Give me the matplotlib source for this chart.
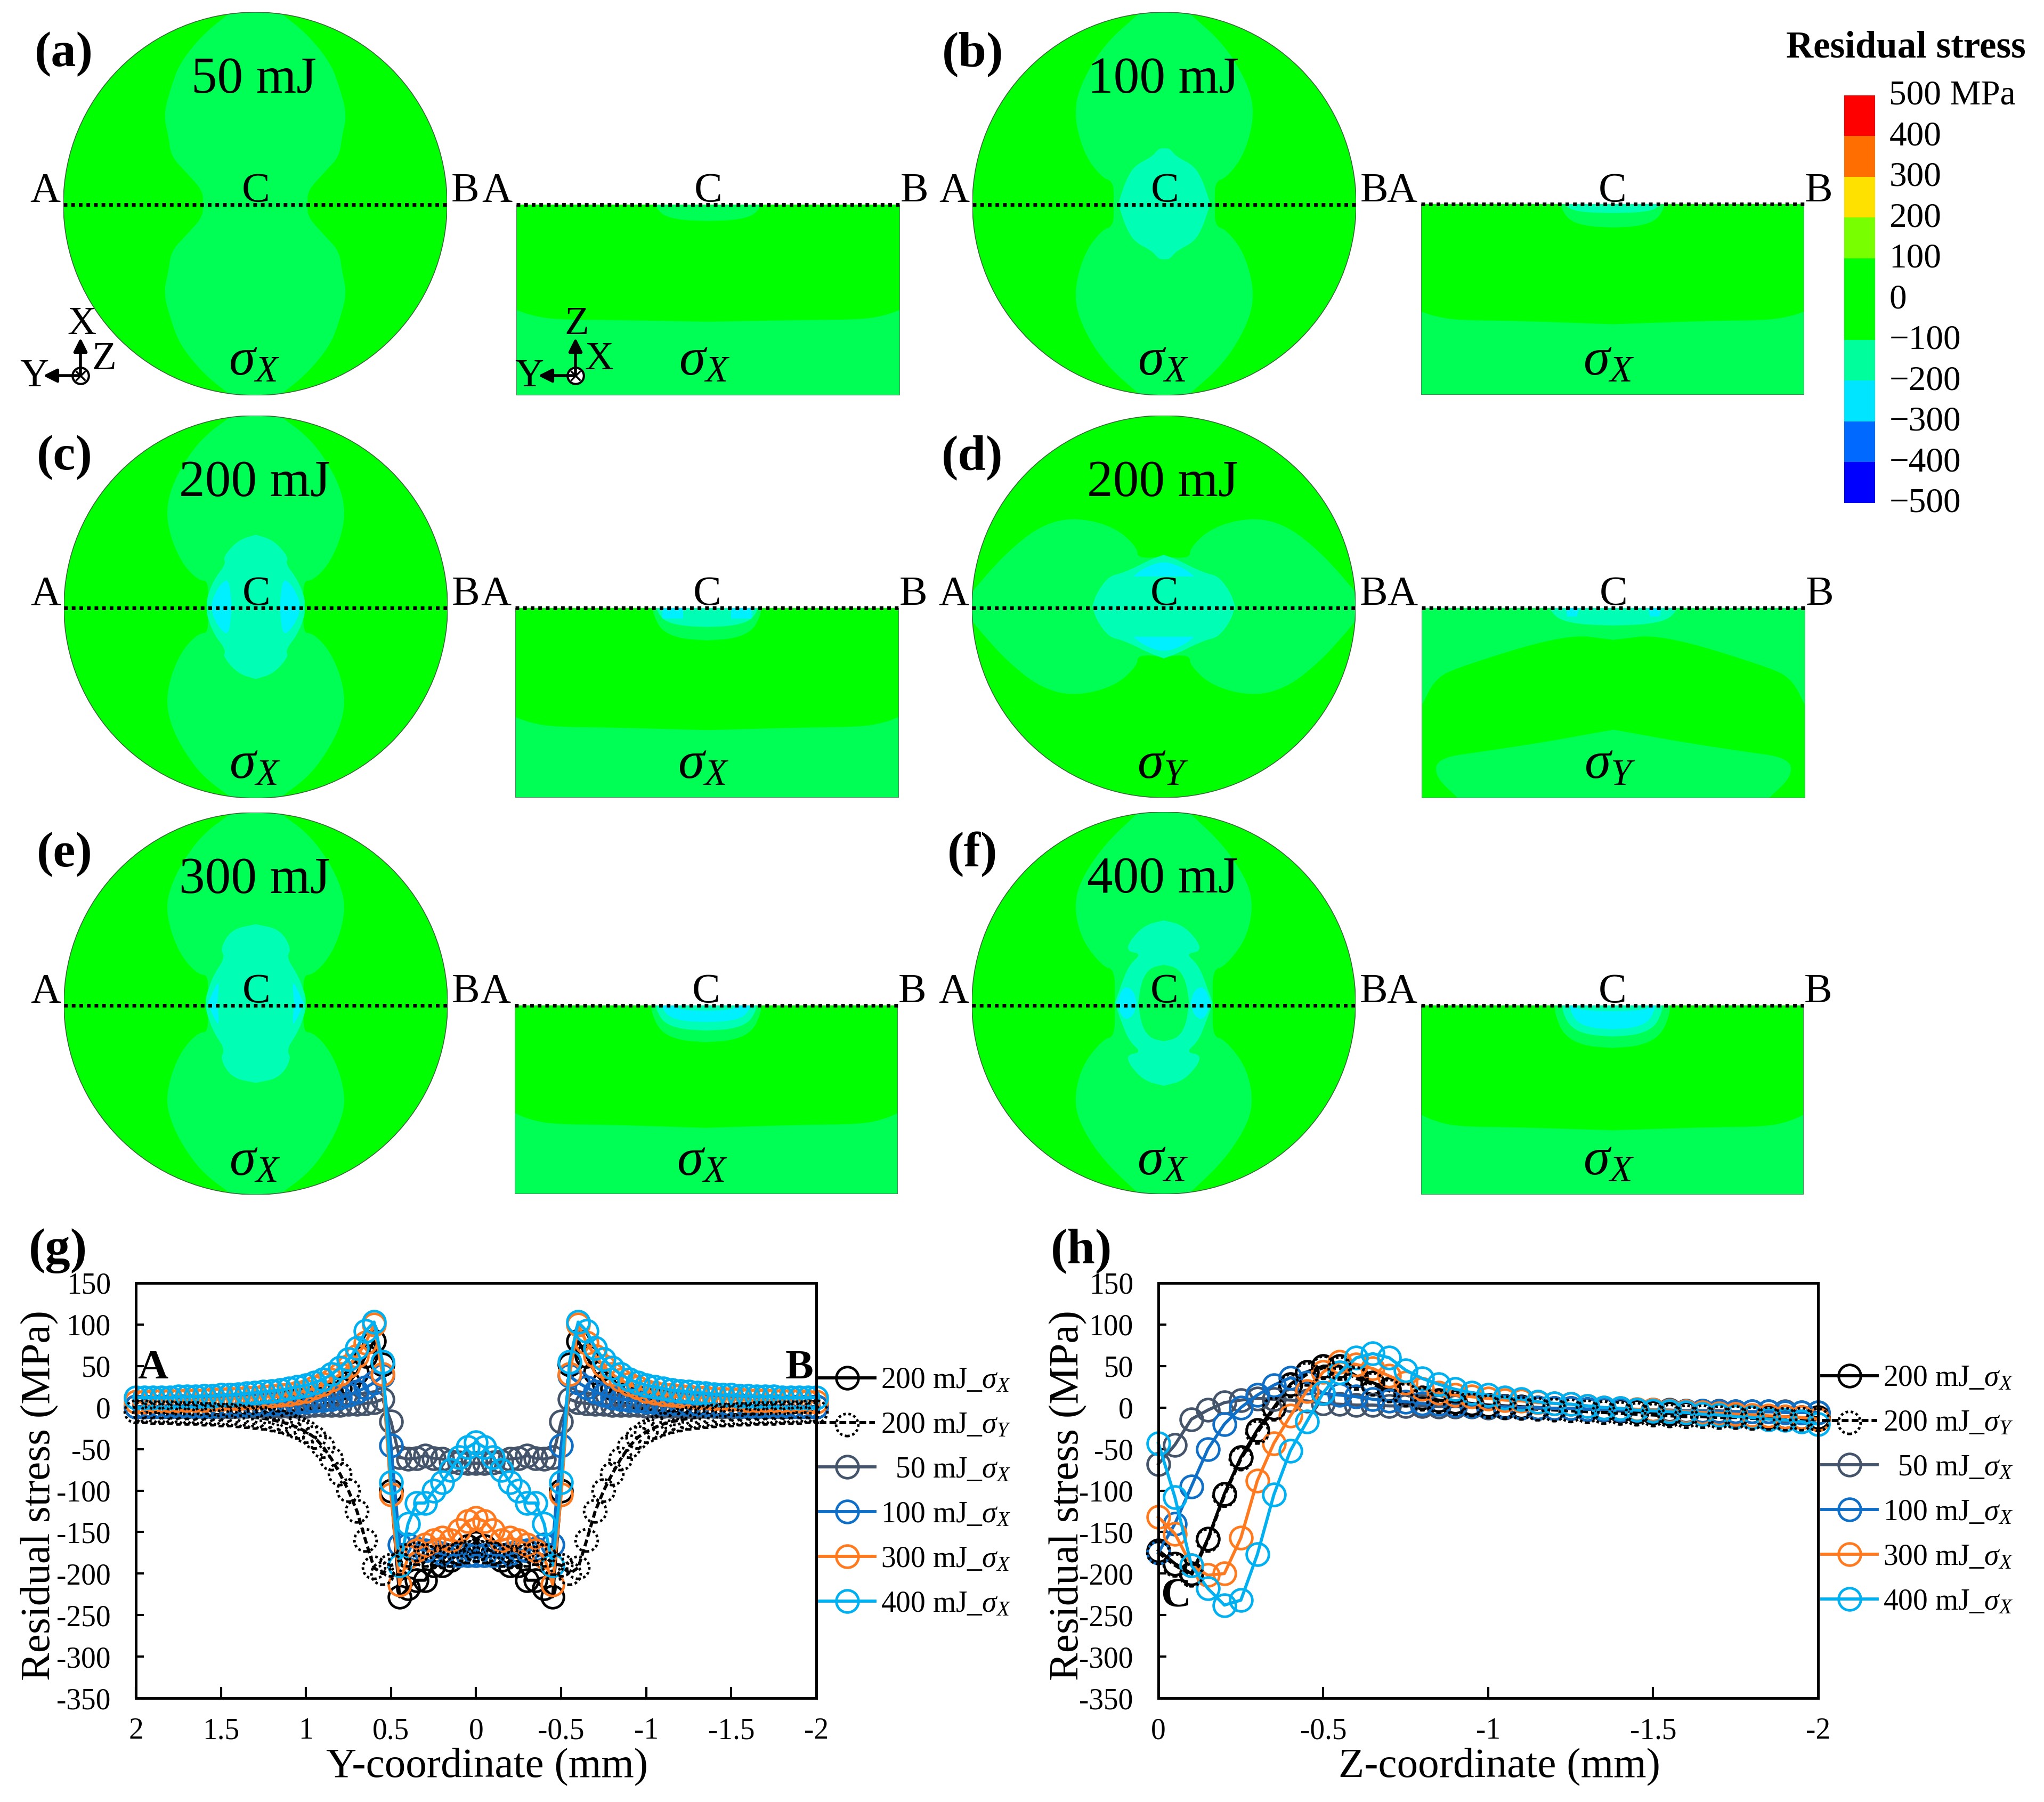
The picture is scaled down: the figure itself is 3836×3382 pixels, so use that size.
import numpy as np
import matplotlib
matplotlib.use('Agg')
import matplotlib.pyplot as plt
from matplotlib.legend_handler import HandlerTuple
from matplotlib.lines import Line2D
from matplotlib.patches import Ellipse, Polygon
from matplotlib.ticker import FormatStrFormatter
from matplotlib.transforms import ScaledTranslation

plt.rcParams['font.family'] = ['Liberation Serif', 'DejaVu Serif']
plt.rcParams['mathtext.fontset'] = 'custom'
plt.rcParams['mathtext.rm'] = 'Liberation Serif'
plt.rcParams['mathtext.it'] = 'Liberation Serif:italic'
plt.rcParams['mathtext.bf'] = 'Liberation Serif:bold'
plt.rcParams['axes.unicode_minus'] = False

W, H = 3837, 3382
GREEN, LIGHT, TEAL, CYAN = '#00ff00', '#00ff55', '#00ffb4', '#00f0ff'

# colour scale
level_edges = [-500, -400, -300, -200, -100, 100, 200, 300, 400, 500]
level_colors = ['#0000ff', '#0069ff', '#00e5ff', '#00ff9c', '#00ff00', '#78ff00', '#ffe100', '#ff6e00', '#ff0000']
level_ticks = [500, 400, 300, 200, 100, 0, -100, -200, -300, -400, -500]
level_labels = ['500 MPa', '400', '300', '200', '100', '0', '\u2212100', '\u2212200', '\u2212300', '\u2212400', '\u2212500']

# line chart (g): stress along the surface, Y = 0 to 2, the curves are mirrored about Y = 0
y_half = [0, .05, .1, .15, .2, .25, .3, .35, .4, .45, .5, .55, .6, .65, .7, .75, .8, .85, .9, .95, 1,
          1.05, 1.1, 1.15, 1.2, 1.25, 1.3, 1.35, 1.4, 1.45, 1.5, 1.55, 1.6, 1.65, 1.7, 1.75, 1.8, 1.85, 1.9, 1.95, 2]
g_200x = [-163, -167, -175, -184, -190, -190, -208, -208, -218, -228,
          -100, 52, 80, 62, 42, 30, 23, 18, 15, 12, 10, 9, 8, 7, 6, 5, 5, 4, 4, 3, 3, 3, 2, 2, 2, 2, 1, 1, 1, 1, 1]
g_200y = [-172, -174, -176, -178, -180, -180, -178, -176, -178, -188,
          -190, -200, -193, -160, -125, -100, -80, -62, -47, -36, -29, -24, -20, -17, -15, -13, -12, -11, -10, -9,
          -9, -8, -8, -7, -7, -7, -6, -6, -6, -5, -5]
g_50x = [-67, -67, -66, -65, -62, -61, -58, -61, -62, -60,
         -17, 10, 6, 5, 4, 4, 3, 3, 3, 3, 2, 2, 2, 2, 2, 2, 2, 2, 2, 1, 1, 1, 1, 1, 1, 1, 1, 1, 1, 1, 1]
g_100x = [-178, -178, -178, -178, -176, -172, -172, -170, -165, -165,
          -46, 38, 30, 24, 19, 15, 12, 10, 9, 8, 7, 6, 5, 5, 4, 4, 4, 3, 3, 3, 3, 2, 2, 2, 2, 2, 2, 1, 1, 1, 1]
g_300x = [-133, -137, -148, -160, -157, -160, -165, -172, -180, -213,
          -105, 40, 100, 78, 62, 50, 40, 33, 28, 24, 20, 18, 16, 15, 14, 13, 12, 12, 11, 11, 10, 10, 9, 9, 9, 8, 8, 8, 8, 7, 7]
g_400x = [-42, -48, -60, -75, -90, -100, -115, -115, -140, -190,
          -90, 55, 103, 92, 72, 58, 48, 40, 34, 30, 27, 25, 23, 21, 20, 19, 18, 17, 16, 15, 15, 14, 14, 13, 13, 13, 12, 12, 12, 12, 12]

# line chart (h): stress along the depth, Z = 0 to -2
h_200x = [-172, -188, -200, -158, -104, -60, -27, 0, 28, 43, 50, 50, 38, 30, 22, 17, 12, 9, 7, 5, 3,
          2, 1, 0, -1, -1, -2, -3, -4, -5, -6, -7, -7, -8, -9, -9, -10, -11, -11, -12, -12]
h_200y = [-175, -190, -202, -160, -106, -62, -30, -2, 26, 40, 48, 47, 35, 28, 20, 15, 10, 7, 5, 3, 1,
          0, -1, -2, -3, -4, -5, -6, -7, -8, -9, -10, -11, -11, -12, -12, -13, -13, -14, -14, -15]
h_50x = [-68, -45, -14, -3, 6, 9, 11, 10, 9, 8, 5, 4, 3, 3, 2, 2, 2, 1, 1, 1, 0,
         0, 0, -1, -1, -1, -2, -2, -2, -3, -3, -3, -4, -4, -4, -5, -5, -5, -5, -6, -6]
h_100x = [-175, -140, -95, -50, -20, 0, 15, 27, 36, 30, 17, 15, 13, 10, 8, 7, 5, 4, 3, 2, 1,
          1, 0, 0, -1, -1, -2, -2, -3, -3, -3, -4, -4, -4, -5, -5, -5, -5, -6, -6, -6]
h_300x = [-132, -152, -190, -202, -200, -157, -88, -43, -10, 20, 43, 55, 52, 47, 38, 30, 22, 18, 15, 13, 11,
          9, 8, 6, 5, 4, 2, 0, -1, -2, -3, -4, -5, -6, -7, -8, -9, -10, -11, -12, -14]
h_400x = [-43, -108, -190, -218, -238, -232, -177, -105, -52, -17, 18, 42, 60, 65, 60, 45, 35, 28, 22, 18, 15,
          12, 10, 7, 5, 4, 2, 0, -1, -3, -4, -5, -6, -8, -9, -11, -12, -14, -15, -17, -20]

legend_labels = ['200 mJ_$\\sigma_X$', '200 mJ_$\\sigma_Y$', '  50 mJ_$\\sigma_X$',
                 '100 mJ_$\\sigma_X$', '300 mJ_$\\sigma_X$', '400 mJ_$\\sigma_X$']
line_colors = ['black', 'black', '#44546a', '#0f6fc6', '#ff7a1e', '#00b0f0']

# contour outlines of the disks, upper right quadrant, unit = disk radius
a_light = [(.127, 1.0), (.267, .89), (.39, .74), (.437, .616), (.478, .466), (.453, .356), (.438, .247), (.36, .164), (.273, .068), (.273, 0)]
b_light = [(.124, 1.0), (.31, .836), (.435, .63), (.472, .466), (.419, .26), (.326, .137), (.264, .116), (.264, 0)]
b_teal = [(0, .29), (.03, .288), (.062, .247), (.155, .199), (.2, .123), (.24, 0)]
c_light = [(.124, 1.0), (.28, .884), (.388, .733), (.45, .596), (.466, .473), (.435, .336), (.373, .212), (.295, .137), (.248, .137), (.248, 0)]
c_teal = [(0, .377), (.093, .349), (.171, .26), (.155, .226), (.217, .144), (.255, .048), (.255, 0)]
c_cyan = [(.125, 0), (.14, .155), (.19, .11), (.222, .05), (.232, 0)]
d_light = [(0, .26), (.137, .253), (.137, .308), (.255, .418), (.472, .47), (.65, .42), (.81, .29), (.93, .16), (1.02, .05), (1.02, 0)]
d_teal = [(0, .271), (.068, .247), (.16, .2), (.224, .174), (.286, .158), (.348, .075), (.373, 0)]
d_cyan = [(-.16, .158), (-.1, .205), (0, .24), (.1, .205), (.16, .158)]
e_light = [(.124, 1.0), (.28, .884), (.388, .733), (.45, .596), (.466, .49), (.435, .35), (.373, .226), (.295, .15), (.248, .15), (.248, 0)]
e_teal = [(0, .415), (.124, .39), (.186, .29), (.16, .24), (.22, .15), (.26, .04), (.26, 0)]
e_cyan = [(.2, 0), (.19, .12), (.215, .08), (.25, 0)]
f_light = [(.13, 1.0), (.317, .822), (.441, .63), (.466, .49), (.425, .326), (.317, .19), (.255, .175), (.255, 0)]
f_teal = [(0, .433), (.1, .408), (.177, .326), (.193, .271), (.115, .258), (.18, .2), (.22, .1), (.255, 0)]
f_hole = [(0, .2), (.07, .185), (.115, .12), (.133, 0)]
f_cyan = [(.14, 0), (.16, .07), (.21, .09), (.245, 0)]

# the section rectangles, right half, x unit = half width, y = depth
d_sec_green = [(0, -.168), (.248, -.137), (.823, -.315), (.932, -.377), (1, -.514)]
d_sec_blob = [(0, -.64), (.357, -.705), (.668, -.753), (.916, -.788), (.932, -.884), (.81, -1)]


def smooth(pts, n=3):
    # corner cutting, ends stay where they are
    pts = [tuple(p) for p in pts]
    for _ in range(n):
        new = [pts[0]]
        for p, q in zip(pts[:-1], pts[1:]):
            new.append((.75 * p[0] + .25 * q[0], .75 * p[1] + .25 * q[1]))
            new.append((.25 * p[0] + .75 * q[0], .25 * p[1] + .75 * q[1]))
        new.append(pts[-1])
        pts = new
    return pts


def quad(pts):
    pts = smooth(pts)
    return (pts + [(x, -y) for x, y in pts[::-1]]
            + [(-x, -y) for x, y in pts] + [(-x, y) for x, y in pts[::-1]])


def side(pts, sign=1):
    pts = smooth(pts)
    return [(sign * x, y) for x, y in pts] + [(sign * x, -y) for x, y in pts[::-1]]


def half_mirror(pts):
    # right half outline to a closed shape around x = 0
    pts = smooth(pts)
    return [(-x, y) for x, y in pts[::-1]] + pts


def bump(half, depth):
    return half_mirror([(0, -depth), (.5 * half, -.95 * depth), (.85 * half, -.7 * depth), (half, -.2 * depth), (half, 0)])


def band(center, mid, edge):
    pts = half_mirror([(0, -center), (.5, -mid), (.81, -mid * .995), (.93, -(mid + edge) / 2), (1, -edge)])
    return [(-1, -1)] + pts + [(1, -1)]


fig = plt.figure(figsize=(W / 100, H / 100), dpi=100, facecolor='white')


def px_axes(x0, y0, x1, y1):
    return fig.add_axes([x0 / W, 1 - y1 / H, (x1 - x0) / W, (y1 - y0) / H])


def draw_disk(cx, top, bot, shapes):
    ax = px_axes(cx - 360, top, cx + 360, bot)
    ax.set_xlim(-1, 1)
    ax.set_ylim(-1, 1)
    ax.axis('off')
    outline = Ellipse((0, 0), 2, 2, fc=GREEN, ec='none')
    ax.add_patch(outline)
    for pts, col in shapes:
        p = Polygon(pts, closed=True, fc=col, ec='none')
        ax.add_patch(p)
        p.set_clip_path(outline)
    ax.add_patch(Ellipse((0, 0), 2, 2, fc='none', ec='#3a6a3a', lw=1.2))


def draw_section(x0, x1, top, bot, shapes, bg=GREEN):
    ax = px_axes(x0, top, x1, bot)
    ax.set_xlim(-1, 1)
    ax.set_ylim(-1, 0)
    ax.axis('off')
    ax.add_patch(Polygon([(-1, 0), (1, 0), (1, -1), (-1, -1)], closed=True, fc=bg, ec='none'))
    for pts, col in shapes:
        ax.add_patch(Polygon(pts, closed=True, fc=col, ec='none'))
    ax.add_line(Line2D([-1, -1, 1, 1], [0, -1, -1, 0], color='#4a8a5a', lw=1.5))


disk_shapes = {
    'a': [(quad(a_light), LIGHT)],
    'b': [(quad(b_light), LIGHT), (quad(b_teal), TEAL)],
    'c': [(quad(c_light), LIGHT), (quad(c_teal), TEAL), (side(c_cyan), CYAN), (side(c_cyan, -1), CYAN)],
    'd': [(quad(d_light), LIGHT), (quad(d_teal), TEAL), (smooth(d_cyan), CYAN), ([(x, -y) for x, y in smooth(d_cyan)], CYAN)],
    'e': [(quad(e_light), LIGHT), (quad(e_teal), TEAL), (side(e_cyan), CYAN), (side(e_cyan, -1), CYAN)],
    'f': [(quad(f_light), LIGHT), (quad(f_teal), TEAL), (quad(f_hole), LIGHT), (side(f_cyan), CYAN), (side(f_cyan, -1), CYAN)],
}
sec_shapes = {
    'a': [(band(.614, .605, .552), LIGHT), (bump(.27, .086), LIGHT)],
    'b': [(band(.63, .612, .564), LIGHT), (bump(.267, .123), LIGHT), (bump(.244, .047), TEAL)],
    'c': [(band(.644, .63, .575), LIGHT), (bump(.28, .171), LIGHT), (bump(.26, .1), TEAL),
          ([(-.233, 0), (-.124, 0), (-.124, -.055), (-.233, -.055)], CYAN), ([(.233, 0), (.124, 0), (.124, -.055), (.233, -.055)], CYAN)],
    'd': [([(-1, -1)] + half_mirror(d_sec_green) + [(1, -1)], GREEN), (half_mirror(d_sec_blob), LIGHT), (bump(.326, .092), TEAL),
          ([(-.25, 0), (-.18, 0), (-.19, -.045), (-.24, -.045)], CYAN), ([(.25, 0), (.18, 0), (.19, -.045), (.24, -.045)], CYAN)],
    'e': [(band(.649, .633, .571), LIGHT), (bump(.285, .195), LIGHT), (bump(.26, .133), TEAL), (bump(.228, .088), CYAN), (bump(.16, .028), TEAL)],
    'f': [(band(.66, .644, .578), LIGHT), (bump(.3, .225), LIGHT), (bump(.26, .164), TEAL), (bump(.22, .126), CYAN), (bump(.2, .03), TEAL)],
}
# panel, energy, stress, disk cx/top/bottom, line y, section x0/x1/top/bottom
panels = [
    ('a', '50 mJ', 'X', 479, 23, 742, 384, 969, 1689, 384, 742),
    ('b', '100 mJ', 'X', 2185, 23, 742, 384, 2667, 3386, 383, 741),
    ('c', '200 mJ', 'X', 480, 780, 1498, 1141, 967, 1687, 1141, 1497),
    ('d', '200 mJ', 'Y', 2184, 780, 1497, 1141, 2668, 3388, 1141, 1498),
    ('e', '300 mJ', 'X', 480, 1525, 2242, 1887, 966, 1685, 1887, 2241),
    ('f', '400 mJ', 'X', 2184, 1524, 2241, 1887, 2667, 3385, 1887, 2242),
]

for name, energy, comp, cx, top, bot, ly, x0, x1, st, sb in panels:
    draw_disk(cx, top, bot, disk_shapes[name])
    draw_section(x0, x1, st, sb, sec_shapes[name], bg=LIGHT if name == 'd' else GREEN)

# overlay in pixels for all the text over the contour plots
ov = fig.add_axes([0, 0, 1, 1], zorder=5)
ov.set_xlim(0, W)
ov.set_ylim(H, 0)
ov.axis('off')
ov.patch.set_alpha(0)

for name, energy, comp, cx, top, bot, ly, x0, x1, st, sb in panels:
    ov.text(cx - 359, top + 79, '(%s)' % name, fontsize=68, fontweight='bold', ha='center', va='center')
    ov.text(cx - 2, top + 128, energy, fontsize=70, ha='center', va='center')
    for lab, xp in [('A', cx - 394), ('C', cx + 1), ('B', cx + 394), ('A', x0 - 36), ('C', (x0 + x1) / 2), ('B', x1 + 27)]:
        ov.text(xp, ly - 6, lab, fontsize=57, ha='center', va='baseline')
    sig = '$\\sigma_%s$' % comp
    ov.text(cx - 2, top + 656, sig, fontsize=72, ha='center', va='center')
    ov.text((x0 + x1) / 2 - 7, top + 656, sig, fontsize=72, ha='center', va='center')
    ov.plot([cx - 360, cx + 360], [ly, ly], color='black', lw=5, dashes=(1, 1.05), dash_capstyle='butt')
    ov.plot([x0, x1], [st, st], color='black', lw=5, dashes=(1, 1.05), dash_capstyle='butt')

# coordinate triads of panel (a)
for ox, up, right in [(151, 'X', 'Z'), (1080, 'Z', 'X')]:
    ov.annotate('', xy=(ox, 634), xytext=(ox, 705), arrowprops=dict(arrowstyle='-|>', lw=4, color='black', mutation_scale=38, shrinkA=0, shrinkB=0))
    ov.annotate('', xy=(ox - 70, 705), xytext=(ox, 705), arrowprops=dict(arrowstyle='-|>', lw=4, color='black', mutation_scale=38, shrinkA=0, shrinkB=0))
    ov.plot([ox], [705], 'o', ms=22, mfc='white', mec='black', mew=3)
    ov.plot([ox], [705], 'x', ms=13, mec='black', mew=2.5)
    ov.text(ox + 2, 609, up, fontsize=54, ha='center', va='center')
    ov.text(ox + 44, 675, right, fontsize=54, ha='center', va='center')
    ov.text(ox - 87, 707, 'Y', fontsize=54, ha='center', va='center')

# colour bar
cax = px_axes(3461, 179, 3519, 944)
bottoms = level_edges[:-1]
heights = [b - a for a, b in zip(level_edges[:-1], level_edges[1:])]
cax.bar([0] * len(heights), heights, bottom=bottoms, width=1, color=level_colors)
cax.set_xlim(-.5, .5)
cax.set_ylim(-500, 500)
cax.set_xticks([])
cax.yaxis.tick_right()
cax.set_yticks(level_ticks)
cax.set_yticklabels(level_labels, fontsize=47)
cax.tick_params(axis='y', length=0, pad=19)
for lab in cax.get_yticklabels():
    lab.set_transform(lab.get_transform() + ScaledTranslation(0, 6 / 100, fig.dpi_scale_trans))
for s in cax.spines.values():
    s.set_visible(False)
ov.text(3577, 90, 'Residual stress', fontsize=51, fontweight='bold', ha='center', va='center')


def line_panel(box, xs, series, xlim, xticks, xlabel, xlabel_x, legend_pos):
    ax = px_axes(*box)
    handles = []
    for vals, col, lab in zip(series, line_colors, legend_labels):
        if lab == legend_labels[1]:
            ln, = ax.plot(xs, vals, color=col, lw=4.2, ls=(0, (2.2, 1)), clip_on=False)
            sc = ax.scatter(xs, vals, s=30 ** 2, facecolors='none', edgecolors=col, linewidths=3.5, linestyles=(0, (1, 1)), clip_on=False, zorder=3)
            handles.append((ln, sc))
        else:
            ln, = ax.plot(xs, vals, color=col, lw=4.2, marker='o', ms=30, mfc='none', mec=col, mew=3.5, clip_on=False)
            handles.append(ln)
    ax.set_xlim(*xlim)
    ax.set_ylim(-350, 150)
    ax.set_xticks(xticks)
    ax.set_yticks(list(range(-350, 151, 50)))
    ax.xaxis.set_major_formatter(FormatStrFormatter('%g'))
    ax.tick_params(axis='x', direction='in', length=15, width=3, labelsize=40, pad=26)
    ax.tick_params(axis='y', direction='in', length=11, width=3, labelsize=40, pad=34)
    for s in ax.spines.values():
        s.set_linewidth(3.6)
    ax.set_xlabel(xlabel, fontsize=57)
    ax.xaxis.set_label_coords(xlabel_x, -.121)
    leg = fig.legend(handles, legend_labels, loc='upper left', bbox_to_anchor=(legend_pos[0] / W, 1 - legend_pos[1] / H),
                     frameon=False, fontsize=40, handlelength=1.87, handletextpad=.2, labelspacing=.575, borderpad=0, borderaxespad=0,
                     numpoints=1, scatterpoints=1, handler_map={tuple: HandlerTuple(ndivide=1, pad=0)})
    leg.set_zorder(6)
    return ax


y_full = [-v for v in y_half[::-1]] + y_half[1:]
z_coord = [-v for v in y_half]


def mirrored(half):
    return half[::-1] + half[1:]


g_series = [mirrored(s) for s in (g_200x, g_200y, g_50x, g_100x, g_300x, g_400x)]
h_series = [h_200x, h_200y, h_50x, h_100x, h_300x, h_400x]

ax_g = line_panel((255, 2408, 1532, 3187), y_full, g_series, (2, -2), [2, 1.5, 1, .5, 0, -.5, -1, -1.5, -2], 'Y-coordinate (mm)', .516, (1538, 2565))
ax_h = line_panel((2174, 2408, 3412, 3187), z_coord, h_series, (0, -2), [0, -.5, -1, -1.5, -2], 'Z-coordinate (mm)', .517, (3419, 2561))

ov.text(75, 2807, 'Residual stress (MPa)', fontsize=57, rotation=90, ha='center', va='center')
ov.text(2005, 2807, 'Residual stress (MPa)', fontsize=57, rotation=90, ha='center', va='center')
ov.text(109, 2348, '(g)', fontsize=68, fontweight='bold', ha='center', va='center')
ov.text(2030, 2348, '(h)', fontsize=68, fontweight='bold', ha='center', va='center')
ax_g.text(1.9, 47, 'A', fontsize=57, fontweight='bold', ha='center', va='center', zorder=8)
ax_g.text(-1.9, 47, 'B', fontsize=57, fontweight='bold', ha='center', va='center', zorder=8)
ax_h.text(-.053, -228, 'C', fontsize=57, fontweight='bold', ha='center', va='center', zorder=8)

fig.savefig('out.png', dpi=100)
